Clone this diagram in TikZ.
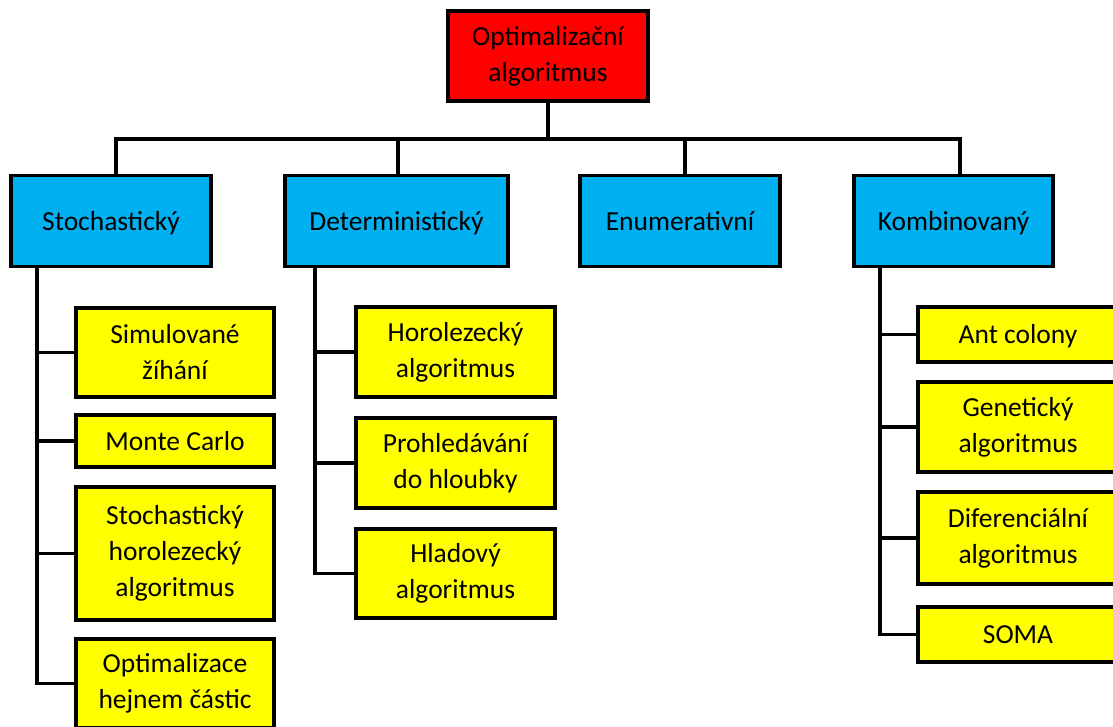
\documentclass[tikz,border=0pt]{standalone}
\usepackage{fontspec}
\setmainfont{Carlito}
\definecolor{rootred}{HTML}{FF0000}
\definecolor{catblue}{HTML}{00B0F0}
\definecolor{leafyellow}{HTML}{FFFF00}
\begin{document}
\begin{tikzpicture}[x=1pt,y=-1pt,
  box/.style={draw=black, line width=3.2pt, inner sep=0pt, align=center,
    font=\fontsize{27.5}{36}\selectfont, text=black},
  oneline/.style={text height=24pt, text depth=6pt},
  rootbox/.style={box, fill=rootred},
  catbox/.style={box, oneline, fill=catblue},
  leafbox/.style={box, fill=leafyellow},
  link/.style={draw=black, line width=3.2pt}]
\useasboundingbox (0,0) rectangle (1113,726);
\clip (0,0) rectangle (1113,726);

% root
\node[rootbox, minimum width=200pt, minimum height=90pt] (root) at (548,56) {Optimalizační\\algoritmus};

% categories
\node[catbox, minimum width=200pt, minimum height=91pt] (st) at (111,221) {Stochastický};
\node[catbox, minimum width=223pt, minimum height=91pt] (de) at (396.5,221) {Deterministický};
\node[catbox, minimum width=200pt, minimum height=91pt] (en) at (680,221) {Enumerativní};
\node[catbox, minimum width=199pt, minimum height=91pt] (ko) at (953.5,221) {Kombinovaný};

% stochastic methods
\node[leafbox, minimum width=198pt, minimum height=89pt] (s1) at (175,352.5) {Simulované\\žíhání};
\node[leafbox, oneline, minimum width=198pt, minimum height=52pt] (s2) at (175,441) {Monte Carlo};
\node[leafbox, minimum width=198pt, minimum height=133pt] (s3) at (175,553.5) {Stochastický\\horolezecký\\algoritmus};
\node[leafbox, minimum width=198pt, minimum height=89pt] (s4) at (175,683.5) {Optimalizace\\hejnem částic};

% deterministic methods
\node[leafbox, minimum width=199pt, minimum height=90pt] (d1) at (455.5,352) {Horolezecký\\algoritmus};
\node[leafbox, minimum width=199pt, minimum height=90pt] (d2) at (455.5,463) {Prohledávání\\do hloubky};
\node[leafbox, minimum width=199pt, minimum height=89pt] (d3) at (455.5,573.5) {Hladový\\algoritmus};

% combined methods
\node[leafbox, oneline, minimum width=200pt, minimum height=55pt] (k1) at (1018,334.5) {Ant colony};
\node[leafbox, minimum width=200pt, minimum height=90pt] (k2) at (1018,427) {Genetický\\algoritmus};
\node[leafbox, minimum width=200pt, minimum height=92pt] (k3) at (1018,538) {Diferenciální\\algoritmus};
\node[leafbox, oneline, minimum width=200pt, minimum height=55pt] (k4) at (1018,634.5) {SOMA};

% bus from the root to the categories
\coordinate (t1) at (116,139);
\coordinate (t2) at (398,139);
\coordinate (t3) at (685,139);
\coordinate (t4) at (960,139);
\draw[link] (root.south) -- (root.south |- t1);
\draw[link, line cap=rect] (t1) -- (t4);
\draw[link] (t1) -- (t1 |- st.north);
\draw[link] (t2) -- (t2 |- de.north);
\draw[link] (t3) -- (t3 |- en.north);
\draw[link] (t4) -- (t4 |- ko.north);

% branch lines to the methods
\coordinate (sa) at (37,0);
\draw[link] (sa |- st.south) |- (s4.west);
\foreach \n in {s1,s2,s3} \draw[link] (sa |- \n.west) -- (\n.west);

\coordinate (da) at (315,0);
\draw[link] (da |- de.south) |- (d3.west);
\foreach \n in {d1,d2} \draw[link] (da |- \n.west) -- (\n.west);

\coordinate (ka) at (880,0);
\draw[link] (ka |- ko.south) |- (k4.west);
\foreach \n in {k1,k2,k3} \draw[link] (ka |- \n.west) -- (\n.west);
\end{tikzpicture}
\end{document}
